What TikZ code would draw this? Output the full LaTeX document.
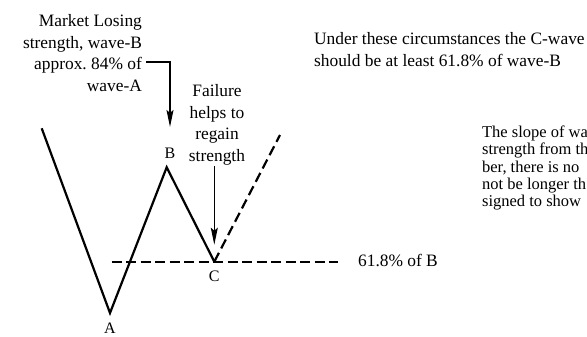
\documentclass[tikz,border=0pt]{standalone}
\usepackage{fontspec}
\setmainfont{Liberation Serif}
\usetikzlibrary{arrows.meta,positioning}

\begin{document}
\begin{tikzpicture}[x=1pt, y=-1pt, >={Stealth[length=17pt,width=7pt,inset=3pt]}, line width=2.2pt]
\useasboundingbox (0,0) rectangle (587,337);
% turning points of the wave
\coordinate (top) at (41.7,128.3);
\coordinate (A) at (110,313);
\coordinate (B) at (166.7,167.3);
\coordinate (C) at (214.3,261.7);
\coordinate (up) at (280,135);
\coordinate (lvlL) at (111.7,262.3);
\coordinate (lvlR) at (338,262.3);
\coordinate (tail) at (146,62);
\draw (top) -- (A) -- (B) -- (C);
\draw[dash pattern=on 10pt off 5pt] (C) -- (up);
\draw[dash pattern=on 10pt off 4.5pt] (lvlL) -- (lvlR);
% point labels
\node[font=\fontsize{16}{16}\selectfont, inner sep=0] (lblA) at (110,328) {A};
\node[font=\fontsize{16}{16}\selectfont, inner sep=0] (lblB) at (170,153) {B};
\node[font=\fontsize{16}{16}\selectfont, inner sep=0] (lblC) at (214.3,276) {C};
% texts
\node[anchor=north east, align=right, inner sep=0, font=\fontsize{17.4}{21.6}\selectfont] (losing) at (143,13.5) {Market Losing\\strength, wave-B\\approx.\ 84\% of\\wave-A};
\node[anchor=north, align=center, inner sep=0, font=\fontsize{17.4}{21.6}\selectfont] (fail) at (217,83.5) {Failure\\helps to\\regain\\strength};
\node[anchor=north west, align=left, inner sep=0, font=\fontsize{17.4}{21.6}\selectfont] (under) at (313,31.4) {Under these circumstances the C-wave\\should be at least 61.8\% of wave-B};
\node[anchor=north west, align=left, inner sep=0, font=\fontsize{16.5}{17.4}\selectfont] (slope) at (481,124.5) {The slope of wa\\strength from th\\ber, there is no\\not be longer th\\signed to show};
\node[anchor=base west, inner sep=0, font=\fontsize{17.4}{21.6}\selectfont] (pct) at (357,266.7) {61.8\% of B};
% arrows
\draw[->, line width=1.3pt, shorten >=19.7pt] (tail) -| (lblB.north);
\draw[->, line width=1.3pt, shorten >=17pt] (fail.south -| C) -- (C);
\end{tikzpicture}
\end{document}
